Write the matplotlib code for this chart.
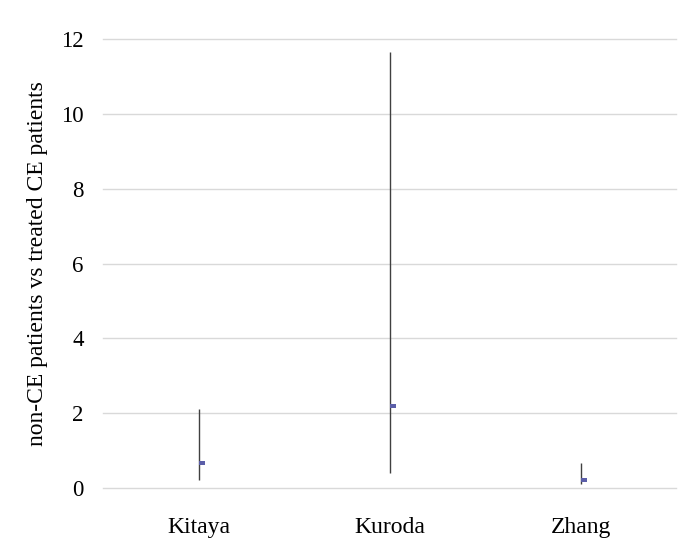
import matplotlib
matplotlib.use("Agg")
import matplotlib.pyplot as plt
from matplotlib.path import Path
import numpy as np

categories = ["Kitaya", "Kuroda", "Zhang"]
low = [0.21, 0.40, 0.11]
high = [2.12, 11.66, 0.67]
estimate = [0.67, 2.19, 0.21]

plt.rcParams['font.family'] = ['Liberation Serif', 'DejaVu Serif']

fig = plt.figure(figsize=(7.0, 5.47), dpi=100)
ax = fig.add_axes([103/700, 1 - 488/547, 573/700, (488-39)/547])

x = np.arange(len(categories))
ax.vlines(x, low, high, color='#404040', linewidth=1.0, zorder=3)

rect = Path([(0, -0.33), (1, -0.33), (1, 0.33), (0, 0.33), (0, -0.33)],
            [Path.MOVETO, Path.LINETO, Path.LINETO, Path.LINETO, Path.CLOSEPOLY])
ax.plot(x, estimate, linestyle='none', marker=rect, markersize=9,
        color='#5b5ea8', markeredgewidth=0, zorder=4)

ax.set_xlim(-0.5, len(categories) - 0.5)
ax.set_ylim(0, 12)
ax.set_yticks(range(0, 13, 2))
ax.set_xticks(x)
ax.set_xticklabels(categories)
ax.yaxis.grid(True, color='#d9d9d9', linewidth=1.0)
for gl in ax.get_ygridlines():
    gl.set_clip_on(False)
ax.set_axisbelow(True)
for s in ax.spines.values():
    s.set_visible(False)
ax.tick_params(axis='both', length=0, colors='#000000')
ax.tick_params(axis='y', pad=14, labelsize=16.5)
ax.tick_params(axis='x', pad=21, labelsize=17)
ax.set_ylabel("non-CE patients vs treated CE patients", fontsize=17, labelpad=9)

fig.savefig("out.png", dpi=100, facecolor='white')
